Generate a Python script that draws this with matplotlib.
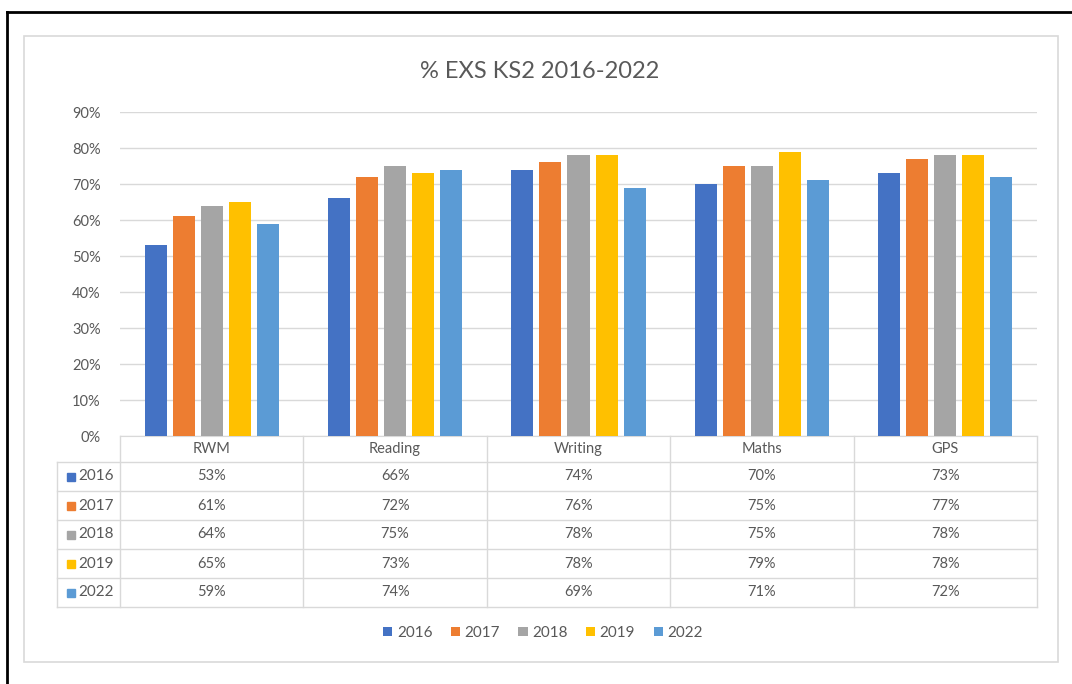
import matplotlib
matplotlib.use("Agg")
import matplotlib.pyplot as plt
import numpy as np
from matplotlib.patches import Rectangle

# ---- data ----
categories = ["RWM", "Reading", "Writing", "Maths", "GPS"]
years = ["2016", "2017", "2018", "2019", "2022"]
v2016 = [53, 66, 74, 70, 73]
v2017 = [61, 72, 76, 75, 77]
v2018 = [64, 75, 78, 75, 78]
v2019 = [65, 73, 78, 79, 78]
v2022 = [59, 74, 69, 71, 72]
series = [v2016, v2017, v2018, v2019, v2022]
yticks = [0, 10, 20, 30, 40, 50, 60, 70, 80, 90]
title = "% EXS KS2 2016-2022"

colors = ["#4472C4", "#ED7D31", "#A5A5A5", "#FFC000", "#5B9BD5"]
txtc = "#595959"
gridc = "#D9D9D9"

plt.rcParams['font.family'] = ['Lato', 'DejaVu Sans']

W, H = 1072, 684
fig = plt.figure(figsize=(W / 100, H / 100), dpi=100)


def frac(x0, y0, x1, y1):
    return [x0 / W, 1 - y1 / H, (x1 - x0) / W, (y1 - y0) / H]


# background frames
bg = fig.add_axes([0, 0, 1, 1], zorder=0)
bg.set_xlim(0, W)
bg.set_ylim(H, 0)
bg.axis('off')
bg.add_patch(Rectangle((24, 36), 1034, 626, fill=False, ec=gridc, lw=1.2))
bg.plot([7, 7], [12, H], color='black', lw=2)
bg.plot([7, W], [12, 12], color='black', lw=2)

# main chart
ax = fig.add_axes(frac(120, 112, 1037, 436), zorder=2)
ax.patch.set_alpha(0)
x = np.arange(len(categories))
bw = 0.12
step = 0.153
for k, (yr, vals) in enumerate(zip(years, series)):
    ax.bar(x + (k - 2) * step, vals, bw, color=colors[k], label=yr, zorder=3)
ax.set_xlim(-0.5, len(categories) - 0.5)
ax.set_ylim(0, 90)
ax.set_yticks(yticks)
ax.set_yticklabels([f"{t}%" for t in yticks])
ax.yaxis.grid(True, color=gridc, lw=1)
ax.set_axisbelow(True)
for s in ['top', 'right', 'left']:
    ax.spines[s].set_visible(False)
ax.spines['bottom'].set_color(gridc)
ax.set_xticks([])
ax.tick_params(axis='y', length=0, pad=14, labelsize=10.5, labelcolor=txtc)

# data table
cat_px = (1037 - 120) / len(categories)
xl = -0.5 - (120 - 57) / cat_px
tab = fig.add_axes(frac(57, 436, 1037, 606), zorder=2)
tab.set_xlim(xl, len(categories) - 0.5)
tab.set_ylim(170, 0)
tab.axis('off')
hdr = 26
rh = 29
xr = len(categories) - 0.5
# lines
for r in range(len(years) + 1):
    yy = hdr + r * rh
    tab.plot([xl, xr], [yy, yy], color=gridc, lw=1, clip_on=False)
for j in range(len(categories) + 1):
    tab.plot([-0.5 + j, -0.5 + j], [0, hdr + len(years) * rh], color=gridc, lw=1, clip_on=False)
tab.plot([xl, xl], [hdr, hdr + len(years) * rh], color=gridc, lw=1, clip_on=False)
# header
for i, c in enumerate(categories):
    tab.text(i, hdr / 2, c, ha='center', va='center', fontsize=10.5, color=txtc)
# rows
for k, (yr, vals) in enumerate(zip(years, series)):
    yc = hdr + k * rh + rh / 2
    tab.plot([xl + 13.5 / cat_px], [yc], marker='s', markersize=6, color=colors[k], clip_on=False)
    tab.text(xl + 21 / cat_px, yc, yr, ha='left', va='center', fontsize=11, color=txtc)
    for i, v in enumerate(vals):
        tab.text(i, yc, f"{v}%", ha='center', va='center', fontsize=10.5, color=txtc)

# title
fig.text(540 / W, 1 - 71 / H, title, ha='center', va='center', fontsize=17, color=txtc)

# legend
handles, labels = ax.get_legend_handles_labels()
leg = fig.legend(handles, labels, loc='center', bbox_to_anchor=(543 / W, 1 - 633 / H),
                 ncol=5, frameon=False, fontsize=11, handlelength=0.6, handleheight=0.6,
                 handletextpad=0.3, columnspacing=1.2)
for t in leg.get_texts():
    t.set_color(txtc)

fig.savefig("out.png", dpi=100, facecolor='white')
